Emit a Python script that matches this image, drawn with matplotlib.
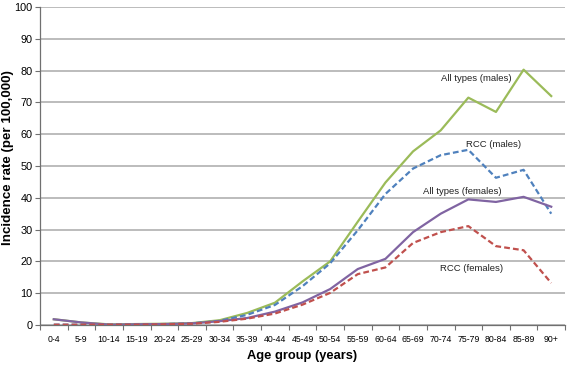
import numpy as np
import matplotlib.pyplot as plt

plt.rcParams['font.family'] = ['Liberation Sans', 'DejaVu Sans']

age_groups = ['0-4', '5-9', '10-14', '15-19', '20-24', '25-29', '30-34', '35-39',
              '40-44', '45-49', '50-54', '55-59', '60-64', '65-69', '70-74',
              '75-79', '80-84', '85-89', '90+']

all_males = [1.8, 0.8, 0.2, 0.3, 0.4, 0.6, 1.5, 3.8, 7.0, 13.7, 20.0, 32.5, 44.8,
             54.6, 61.2, 71.5, 67.0, 80.3, 72.0]
rcc_males = [0.1, 0.1, 0.1, 0.2, 0.3, 0.5, 1.3, 3.2, 6.3, 12.2, 19.4, 29.8, 41.2,
             49.2, 53.4, 55.1, 46.3, 48.8, 35.0]
all_females = [1.8, 0.8, 0.1, 0.2, 0.3, 0.5, 1.2, 2.2, 4.2, 7.1, 11.3, 17.6, 20.8,
               29.2, 35.0, 39.5, 38.7, 40.3, 37.2]
rcc_females = [0.1, 0.1, 0.1, 0.1, 0.2, 0.4, 1.0, 2.0, 3.6, 6.4, 10.1, 16.0, 18.1,
               25.8, 29.2, 31.1, 24.8, 23.5, 13.2]

labels = [('All types (males)', 15.3, 77.4),
          ('RCC (males)', 15.9, 56.9),
          ('All types (females)', 14.8, 42.1),
          ('RCC (females)', 15.1, 17.9)]

fig = plt.figure(figsize=(5.68, 3.65), dpi=100)
ax = fig.add_axes([0.0704, 0.1096, 0.9244, 0.8712])

x = np.arange(len(age_groups))
ax.plot(x, all_males, color='#9BBB59', lw=1.6, zorder=3)
ax.plot(x, rcc_males, color='#4F81BD', lw=1.6, ls=(0, (2.6, 1.4)), zorder=3)
ax.plot(x, all_females, color='#8064A2', lw=1.6, zorder=4)
ax.plot(x, rcc_females, color='#C0504D', lw=1.6, ls=(0, (2.6, 1.4)), zorder=4)

for txt, tx, ty in labels:
    ax.text(tx, ty, txt, ha='center', va='center', fontsize=6.8, color='#222222')

ax.set_xlim(-0.5, len(age_groups) - 0.5)
ax.set_ylim(0, 100)
ax.set_yticks(np.arange(0, 101, 10))
ax.set_xticks(x)
ax.set_xticklabels(age_groups, fontsize=6.3)
ax.set_xticks(np.arange(-0.5, len(age_groups)), minor=True)
ax.tick_params(axis='x', which='major', length=0, pad=7)
ax.tick_params(axis='x', which='minor', length=3.5, color='#707070', width=0.8)
ax.tick_params(axis='y', labelsize=7.8, length=3.5, color='#707070', width=0.8, pad=2)

ax.grid(axis='y', color='#aaaaaa', lw=1.1)
ax.set_axisbelow(True)
for s in ['top', 'right']:
    ax.spines[s].set_visible(False)
for s in ['left', 'bottom']:
    ax.spines[s].set_color('#707070')
    ax.spines[s].set_linewidth(0.9)

ax.set_xlabel('Age group (years)', fontsize=9.3, fontweight='bold')
ax.set_ylabel('Incidence rate (per 100,000)', fontsize=9.6, fontweight='bold')
ax.xaxis.set_label_coords(0.5, -0.078)
ax.yaxis.set_label_coords(-0.049, 0.525)

fig.savefig('out.png', dpi=100)
